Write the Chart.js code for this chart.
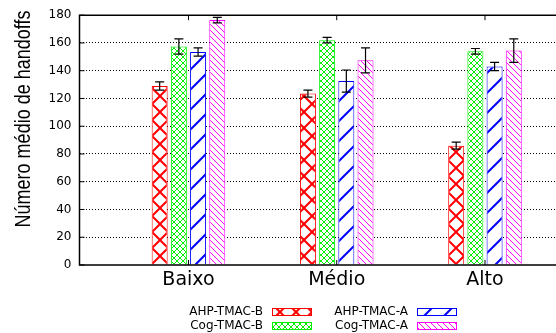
<!DOCTYPE html>
<html>
<head>
<meta charset="utf-8">
<script src="https://cdn.jsdelivr.net/npm/chart.js@4"></script>
<style>
  body { margin: 0; background: #fff; }
  canvas { display: block; }
</style>
</head>
<body>
<canvas id="handoffChart" width="556" height="333"></canvas>
<script>
const categories = ["Baixo", "Médio", "Alto"];
const seriesNames = ["AHP-TMAC-B", "Cog-TMAC-B", "AHP-TMAC-A", "Cog-TMAC-A"];
const ahpB = [129, 123.5, 86];
const cogB = [157.5, 162, 154];
const ahpA = [153.5, 132.5, 143];
const cogA = [176.5, 147.5, 154.5];
const ahpBErr = [3, 2.5, 2.5];
const cogBErr = [5.5, 2, 2];
const ahpAErr = [3, 8, 3];
const cogAErr = [2, 9, 8.5];
const yTicks = [0, 20, 40, 60, 80, 100, 120, 140, 160, 180];
const yTitle = "Número médio de handoffs";

// hatch tiles, gnuplot style
function makePattern(size, color, width, kind) {
  const c = document.createElement("canvas");
  c.width = size; c.height = size;
  const g = c.getContext("2d");
  g.fillStyle = "#fff";
  g.fillRect(0, 0, size, size);
  g.strokeStyle = color;
  g.lineWidth = width;
  const s = size;
  function line(x1, y1, x2, y2) { g.beginPath(); g.moveTo(x1, y1); g.lineTo(x2, y2); g.stroke(); }
  if (kind === "/" || kind === "x") {
    line(0, s, s, 0); line(-1, 1, 1, -1); line(s - 1, s + 1, s + 1, s - 1);
  }
  if (kind === "\\" || kind === "x") {
    line(0, 0, s, s); line(-1, s - 1, 1, s + 1); line(s - 1, -1, s + 1, 1);
  }
  return g.createPattern(c, "repeat");
}

const colors = ["#ff0000", "#00ee00", "#0000ff", "#ff00ff"];
const ctx = document.getElementById("handoffChart").getContext("2d");
const patterns = [
  makePattern(16, colors[0], 2, "x"),
  makePattern(6, colors[1], 1, "x"),
  makePattern(20, colors[2], 2, "/"),
  makePattern(6, colors[3], 1, "\\")
];
const values = [ahpB, cogB, ahpA, cogA];
const errors = [ahpBErr, cogBErr, ahpAErr, cogAErr];

const datasets = seriesNames.map((name, i) => ({
  label: name,
  data: values[i].map((v, j) => ({ x: j, y: v })),
  err: errors[i],
  backgroundColor: patterns[i],
  borderColor: colors[i],
  borderWidth: 1,
  categoryPercentage: 0.518,
  barPercentage: 0.833
}));

const framePlugin = {
  id: "frame",
  afterDatasetsDraw(chart) {
    const c = chart.ctx;
    const a = chart.chartArea;
    const xs = chart.scales.x, ys = chart.scales.y;
    c.save();
    // error bars
    c.strokeStyle = "#000";
    c.lineWidth = 1.2;
    chart.data.datasets.forEach((ds, i) => {
      chart.getDatasetMeta(i).data.forEach((bar, j) => {
        const v = ds.data[j].y, e = ds.err[j];
        const y1 = ys.getPixelForValue(v + e), y2 = ys.getPixelForValue(v - e);
        c.beginPath();
        c.moveTo(bar.x, y1); c.lineTo(bar.x, y2);
        c.moveTo(bar.x - 4.5, y1); c.lineTo(bar.x + 4.5, y1);
        c.moveTo(bar.x - 4.5, y2); c.lineTo(bar.x + 4.5, y2);
        c.stroke();
      });
    });
    // border: left, bottom, top
    c.lineWidth = 1.5;
    c.beginPath();
    c.moveTo(a.right, a.top); c.lineTo(a.left, a.top); c.lineTo(a.left, a.bottom); c.lineTo(a.right, a.bottom);
    c.stroke();
    // inward ticks
    c.lineWidth = 1;
    c.beginPath();
    yTicks.forEach(t => {
      const y = ys.getPixelForValue(t);
      c.moveTo(a.left, y); c.lineTo(a.left + 5, y);
    });
    categories.forEach((_, j) => {
      const x = xs.getPixelForValue(j);
      c.moveTo(x, a.bottom); c.lineTo(x, a.bottom - 5);
      c.moveTo(x, a.top); c.lineTo(x, a.top + 5);
    });
    c.stroke();
    // y title
    c.fillStyle = "#000";
    c.font = '18px "Liberation Sans"';
    c.textAlign = "center";
    c.textBaseline = "middle";
    c.translate(24, 119);
    c.rotate(-Math.PI / 2);
    c.scale(1, 1.22);
    c.fillText(yTitle, 0, 0);
    c.restore();
    // legend
    c.save();
    c.font = '12px "DejaVu Sans"';
    c.textAlign = "right";
    c.textBaseline = "middle";
    c.fillStyle = "#000";
    const cols = [272, 417], rows = [308, 322];
    seriesNames.forEach((name, i) => {
      const bx = cols[Math.floor(i / 2)], by = rows[i % 2];
      c.fillText(name, bx - 9, by + 4);
      c.fillStyle = patterns[i];
      c.fillRect(bx, by, 40, 8);
      c.strokeStyle = colors[i];
      c.lineWidth = 1;
      c.strokeRect(bx + 0.5, by + 0.5, 39, 7);
      c.fillStyle = "#000";
    });
    c.restore();
  }
};

new Chart(ctx, {
  type: "bar",
  data: { datasets: datasets },
  options: {
    responsive: false,
    animation: false,
    layout: { padding: { top: 10, right: 0, left: 0, bottom: 0 } },
    plugins: { legend: { display: false }, tooltip: { enabled: false } },
    scales: {
      x: {
        type: "linear",
        offset: false,
        min: -0.735,
        max: 2.479,
        afterBuildTicks: s => { s.ticks = categories.map((_, j) => ({ value: j })); },
        afterFit: s => { s.height = 68; },
        grid: { display: false, drawTicks: false },
        border: { display: false },
        ticks: {
          padding: 4,
          color: "#000",
          font: { family: "DejaVu Sans", size: 19 },
          callback: v => categories[v]
        }
      },
      y: {
        min: 0,
        max: 180,
        afterBuildTicks: s => { s.ticks = yTicks.map(t => ({ value: t })); },
        afterFit: s => { s.width = 79.5; },
        grid: {
          drawTicks: false,
          color: c => (c.tick && (c.tick.value === 0 || c.tick.value === 180)) ? "rgba(0,0,0,0)" : "#000",
          lineWidth: 1
        },
        border: { display: false, dash: [1, 2] },
        ticks: {
          padding: 8,
          color: "#000",
          font: { family: "DejaVu Sans", size: 12 }
        }
      }
    }
  },
  plugins: [framePlugin]
});
</script>
</body>
</html>
